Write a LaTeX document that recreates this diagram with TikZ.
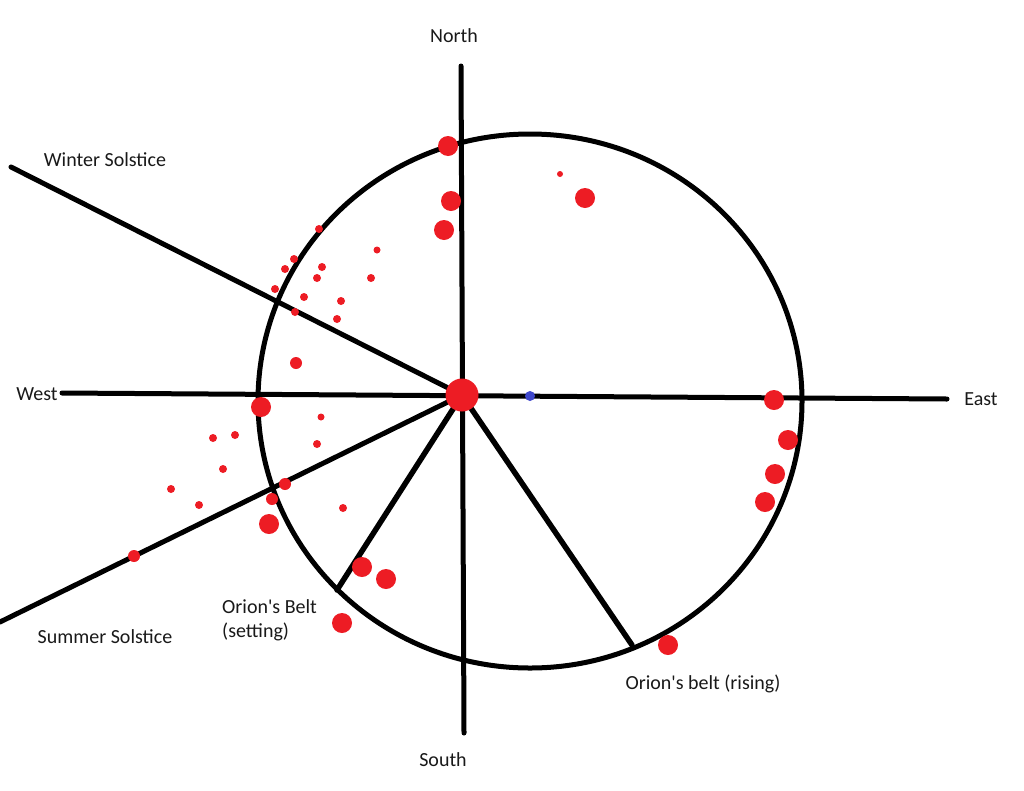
\documentclass[tikz,border=0pt]{standalone}
\usepackage{fontspec}
\setmainfont{Carlito}[Ligatures=TeXOff]
\definecolor{pred}{RGB}{237,28,36}
\definecolor{pblue}{RGB}{63,72,204}
\begin{document}
\begin{tikzpicture}[x=1pt,y=-1pt,
  lbl/.style={font=\fontsize{20}{24}\selectfont, text=black!90, inner sep=0pt},
  axis/.style={line width=5pt, line cap=round},
  ray/.style={line width=5.5pt, line cap=round},
  sdot/.style={circle, fill=pred, inner sep=0pt, minimum size=8pt},
  mdot/.style={circle, fill=pred, inner sep=0pt, minimum size=12pt},
  ldot/.style={circle, fill=pred, inner sep=0pt, minimum size=20pt}]
\useasboundingbox (0,0) rectangle (1024,790);
% coordinates
\coordinate (c) at (462,395);
\coordinate (n) at (461,66);
\coordinate (s) at (464,733);
\coordinate (w) at (62,393);
\coordinate (e) at (947,399);
\coordinate (ws) at (11,167);
\coordinate (ss) at (0,622);
\coordinate (os) at (337,590);
\coordinate (or) at (632,645);
% circle
\draw[line width=5pt] (530,401) ellipse [x radius=272, y radius=267];
% lines
\draw[axis] (n) -- (s);
\draw[axis] (w) -- (e);
\draw[axis] (ws) -- (c);
\draw[axis] (ss) -- (c);
\draw[ray] (c) -- (os);
\draw[ray] (c) -- (or);
% center and blue
\node[circle, fill=pred, inner sep=0pt, minimum size=33pt] (cdot) at (c) {};
\node[circle, fill=pblue, inner sep=0pt, minimum size=10pt] (bdot) at (530,396) {};
% small dots
\foreach \p [count=\i] in {(319,229),(294,259),(285,269),(322,267),(317,278),(371,278),
  (275,289),(304,297),(341,301),(295,312),(337,319),(213,438),(235,435),(317,444),
  (223,469),(171,489),(199,505),(343,508)}
  \node[sdot] (sd\i) at \p {};
\node[sdot, minimum size=7pt] (sdA) at (377,250) {};
\node[sdot, minimum size=7pt] (sdB) at (321,417) {};
\node[sdot, minimum size=6pt] (sdC) at (560,174) {};
% medium dots
\foreach \p [count=\i] in {(296,363),(285,484),(272,499),(134,556)}
  \node[mdot] (md\i) at \p {};
% large dots
\foreach \p [count=\i] in {(261,407),(269,524),(362,567),(386,579),(342,623),(448,146),
  (451,201),(444,230),(585,198),(774,400),(788,440),(775,474),(765,502),(668,645)}
  \node[ldot] (ld\i) at \p {};
% labels
\node[lbl] (north) at (454,36) {North};
\node[lbl] (south) at (443,760) {South};
\node[lbl] (west) at (37,394) {West};
\node[lbl] (east) at (981,399) {East};
\node[lbl] (wint) at (105,160) {Winter Solstice};
\node[lbl] (summ) at (105,637) {Summer Solstice};
\node[lbl, align=left, anchor=west] (oset) at (222,620) {Orion's Belt\\(setting)};
\node[lbl] (oris) at (703,684) {Orion's belt (rising)};
\end{tikzpicture}
\end{document}
